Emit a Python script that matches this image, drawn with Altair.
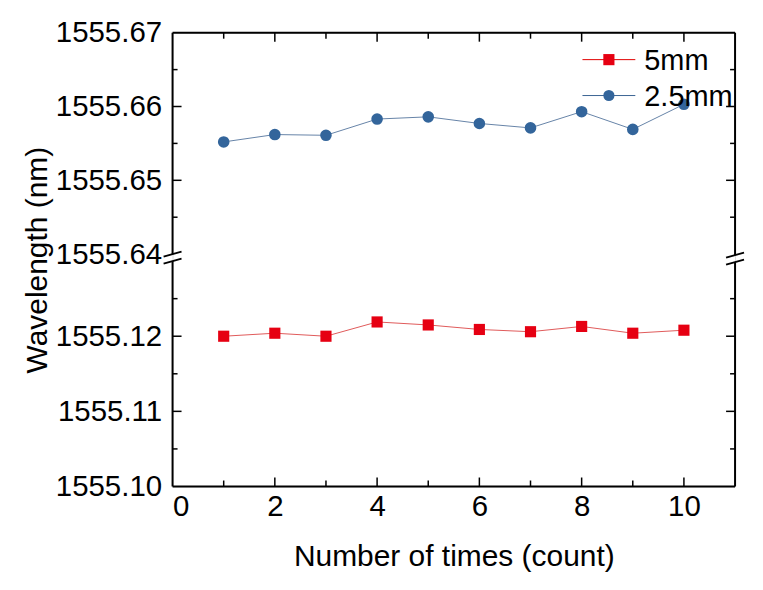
import altair as alt
import pandas as pd

# ---- data ----
counts = [1, 2, 3, 4, 5, 6, 7, 8, 9, 10]
series_names = ["5mm", "2.5mm"]
wl_5mm = [1555.1200, 1555.1204, 1555.1200, 1555.1219, 1555.1215,
          1555.1209, 1555.1206, 1555.1213, 1555.1204, 1555.1208]
wl_2_5mm = [1555.6552, 1555.6562, 1555.6561, 1555.6583, 1555.6586,
            1555.6577, 1555.6571, 1555.6593, 1555.6569, 1555.6603]

y_major = [1555.10, 1555.11, 1555.12, 1555.64, 1555.65, 1555.66, 1555.67]
y_minor = [1555.105, 1555.115, 1555.125, 1555.645, 1555.655, 1555.665]
y_major_inner = [1555.11, 1555.12, 1555.65, 1555.66]
x_major = [2, 4, 6, 8, 10]
x_minor = [1, 3, 5, 7, 9]
x_labels = [0, 2, 4, 6, 8, 10]

W, H = 564, 455
FONT = "Liberation Sans"
RED_M, RED_L = "#e60012", "#e05a5a"
BLUE_M, BLUE_L = "#33659b", "#6684a8"

# broken y axis: piecewise linear scale
yscale = alt.Scale(domain=[1555.10, 1555.13, 1555.64, 1555.67],
                   range=[H, 229, 222, 0], zero=False, nice=False)
xscale = alt.Scale(domain=[0, 11], nice=False, zero=False)
yaxis = alt.Axis(values=y_major, format=".2f", domain=False, ticks=False, grid=False,
                 labelFont=FONT, labelFontSize=29.5, labelColor="black", labelPadding=11,
                 titleFont=FONT, titleFontSize=30, titleFontWeight="normal",
                 titleColor="black", titlePadding=3)
xaxis = alt.Axis(values=x_labels, format="d", domain=False, ticks=False, grid=False,
                 labelFont=FONT, labelFontSize=29.5, labelColor="black", labelPadding=6,
                 titleFont=FONT, titleFontSize=30, titleFontWeight="normal",
                 titleColor="black", titlePadding=21)
YT = "Wavelength (nm)"
XT = "Number of times (count)"


def Y(f):
    return alt.Y(f"{f}:Q", scale=yscale, axis=yaxis, title=YT)


def X(f):
    return alt.X(f"{f}:Q", scale=xscale, axis=xaxis, title=XT)


df = pd.DataFrame({
    "count": counts * 2,
    "wl": wl_5mm + wl_2_5mm,
    "series": [series_names[0]] * 10 + [series_names[1]] * 10,
})
d5 = df[df.series == "5mm"]
d25 = df[df.series == "2.5mm"]

layers = []
# data lines and markers
layers.append(alt.Chart(d5).mark_line(color=RED_L, strokeWidth=1).encode(x=X("count"), y=Y("wl")))
layers.append(alt.Chart(d5).mark_point(shape="square", filled=True, size=125, color=RED_M, opacity=1)
              .encode(x=X("count"), y=Y("wl")))
layers.append(alt.Chart(d25).mark_line(color=BLUE_L, strokeWidth=1).encode(x=X("count"), y=Y("wl")))
layers.append(alt.Chart(d25).mark_point(shape="circle", filled=True, size=135, color=BLUE_M, opacity=1)
              .encode(x=X("count"), y=Y("wl")))

# inward ticks
ymaj = pd.DataFrame({"v": y_major_inner})
ymin = pd.DataFrame({"v": y_minor})
xmaj = pd.DataFrame({"v": x_major})
xmin = pd.DataFrame({"v": x_minor})
TW = 1.5
for data, ln in [(ymaj, 9), (ymin, 5)]:
    layers.append(alt.Chart(data).mark_rule(color="black", strokeWidth=TW)
                  .encode(y=Y("v"), x=alt.value(0), x2=alt.value(ln)))
    layers.append(alt.Chart(data).mark_rule(color="black", strokeWidth=TW)
                  .encode(y=Y("v"), x=alt.value(W - ln), x2=alt.value(W)))
for data, ln in [(xmaj, 9), (xmin, 6)]:
    layers.append(alt.Chart(data).mark_rule(color="black", strokeWidth=TW)
                  .encode(x=X("v"), y=alt.value(H), y2=alt.value(H - ln)))
    layers.append(alt.Chart(data).mark_rule(color="black", strokeWidth=TW)
                  .encode(x=X("v"), y=alt.value(0), y2=alt.value(ln)))

# frame (split at the axis break)
one = alt.Data(values=[{}])
FW = 2
frame = [
    dict(x=alt.value(0), x2=alt.value(W), y=alt.value(0)),
    dict(x=alt.value(0), x2=alt.value(W), y=alt.value(H)),
    dict(x=alt.value(0), y=alt.value(0), y2=alt.value(222)),
    dict(x=alt.value(0), y=alt.value(229), y2=alt.value(H)),
    dict(x=alt.value(W), y=alt.value(0), y2=alt.value(223)),
    dict(x=alt.value(W), y=alt.value(230), y2=alt.value(H)),
]
for enc in frame:
    layers.append(alt.Chart(one).mark_rule(color="black", strokeWidth=FW).encode(**enc))

# break marks
for cx, cy in [(0, 222), (0, 229), (W, 223), (W, 230)]:
    layers.append(alt.Chart(one).mark_rule(color="black", strokeWidth=1.8).encode(
        x=alt.value(cx - 9), x2=alt.value(cx + 9),
        y=alt.value(cy + 2.5), y2=alt.value(cy - 2.5)))

# legend (manual, line through marker)
leg_rows = [(series_names[0], "#e00000", RED_M, "square", 27),
            (series_names[1], "#3a6493", BLUE_M, "circle", 63)]
for name, lc, mc, shp, yy in leg_rows:
    ld = pd.DataFrame({"name": [name]})
    layers.append(alt.Chart(ld).mark_rule(color=lc, strokeWidth=1).encode(
        x=alt.value(411), x2=alt.value(464), y=alt.value(yy)))
    layers.append(alt.Chart(ld).mark_point(shape=shp, filled=True, size=125, color=mc, opacity=1)
                  .encode(x=alt.value(437.5), y=alt.value(yy)))
    layers.append(alt.Chart(ld).mark_text(align="left", baseline="middle", font=FONT,
                                          fontSize=29, color="black")
                  .encode(x=alt.value(473), y=alt.value(yy + 1), text="name:N"))

chart = alt.layer(*layers).properties(
    width=W, height=H,
    autosize=alt.AutoSizeParams(type="none"),
    padding={"left": 165, "top": 24, "right": 20, "bottom": 95},
).configure_view(stroke=None).configure(background="white")

chart.save("out.html", embed_options={"renderer": "svg", "actions": False})
